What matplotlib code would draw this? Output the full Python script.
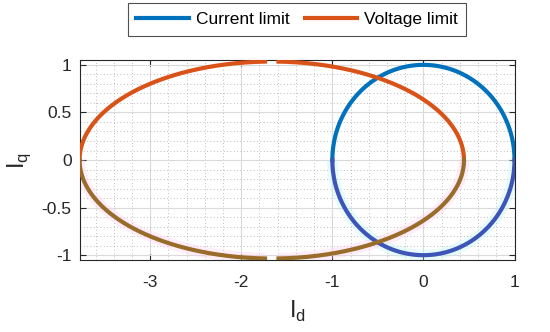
import numpy as np
import matplotlib
matplotlib.use("Agg")
import matplotlib.pyplot as plt
from matplotlib.ticker import MultipleLocator

plt.rcParams["font.family"] = ["Liberation Sans", "DejaVu Sans"]

# Data
circle_center = (0.0, 0.0)
circle_radius = 1.0
ellipse_center = (-1.665, 0.0)
ellipse_axes = (2.11, 1.035)
series_labels = ["Current limit", "Voltage limit"]
x_ticks = [-3, -2, -1, 0, 1]
y_ticks = [-1, -0.5, 0, 0.5, 1]
x_limits = (-3.77, 1.0)
y_limits = (-1.05, 1.05)

BLUE = "#0072BD"
BLUE_LOW = "#3D55B8"
ORANGE = "#D95319"
ORANGE_LOW = "#9A6C2A"

fig = plt.figure(figsize=(5.5, 3.32), dpi=100)
ax = fig.add_axes([0.1455, 0.217, 0.79, 0.602])

# circle (current limit)
t_up = np.linspace(0, np.pi, 200)
t_lo = np.linspace(np.pi, 2 * np.pi, 200)
cx, cy = circle_center
ax.plot(cx + circle_radius * np.cos(t_lo), cy + circle_radius * np.sin(t_lo),
        color="#BFF5F5", lw=8, alpha=0.35, zorder=2, solid_capstyle="butt")
ax.plot(cx + circle_radius * np.cos(t_up), cy + circle_radius * np.sin(t_up),
        color=BLUE, lw=3, zorder=4, label=series_labels[0])
ax.plot(cx + circle_radius * np.cos(t_lo), cy + circle_radius * np.sin(t_lo),
        color=BLUE_LOW, lw=3, zorder=4)

# ellipse (voltage limit), drawn in pieces with a small gap at the top/bottom
ex, ey = ellipse_center
a, b = ellipse_axes
gap = 0.035
t0 = np.linspace(0, np.pi / 2 - gap, 150)
t1 = np.linspace(np.pi / 2 + gap, np.pi, 150)
t2 = np.linspace(-np.pi / 2 + gap, 0, 150)
t3 = np.linspace(np.pi, 3 * np.pi / 2 - gap, 150)
for t in (t3, t2):
    ax.plot(ex + a * np.cos(t), ey + b * np.sin(t), color="#FFD0F0", lw=8,
            alpha=0.35, zorder=2, solid_capstyle="butt")
ax.plot(ex + a * np.cos(t0), ey + b * np.sin(t0), color=ORANGE, lw=3, zorder=5,
        label=series_labels[1])
ax.plot(ex + a * np.cos(t1), ey + b * np.sin(t1), color=ORANGE, lw=3, zorder=5)
ax.plot(ex + a * np.cos(t2), ey + b * np.sin(t2), color=ORANGE_LOW, lw=3, zorder=5)
ax.plot(ex + a * np.cos(t3), ey + b * np.sin(t3), color=ORANGE_LOW, lw=3, zorder=5)

ax.set_xlim(*x_limits)
ax.set_ylim(*y_limits)
ax.set_xticks(x_ticks)
ax.set_yticks(y_ticks)
ax.set_xticklabels([f"{v:g}" for v in x_ticks])
ax.set_yticklabels([f"{v:g}" for v in y_ticks])
ax.xaxis.set_minor_locator(MultipleLocator(0.2))
ax.yaxis.set_minor_locator(MultipleLocator(0.1))

ax.grid(True, which="major", color="#DADADA", lw=0.8, zorder=0)
ax.grid(True, which="minor", color="#A8A8A8", lw=0.6, linestyle=(0, (1, 3)), zorder=0)
ax.set_axisbelow(True)

ax.tick_params(which="both", direction="in", top=True, right=True,
               labelsize=12.5, colors="#262626")
ax.tick_params(axis="x", pad=11)
ax.tick_params(axis="y", pad=6)
ax.tick_params(which="minor", length=0)
ax.tick_params(which="major", length=4)
for s in ax.spines.values():
    s.set_color("#262626")
    s.set_linewidth(0.8)

ax.set_xlabel("I$_\\mathregular{d}$", fontsize=17, color="#262626", labelpad=6)
ax.set_ylabel("I$_\\mathregular{q}$", fontsize=17, color="#262626", labelpad=6)

leg = fig.legend(loc="upper center", bbox_to_anchor=(0.54, 0.99), ncol=2,
                 fontsize=12.5, frameon=True, fancybox=False, edgecolor="#262626",
                 handlelength=3.0, handletextpad=0.4, columnspacing=0.9,
                 borderpad=0.5, borderaxespad=0)
leg.get_frame().set_linewidth(0.8)

fig.savefig("out.png", dpi=100, facecolor="white")
